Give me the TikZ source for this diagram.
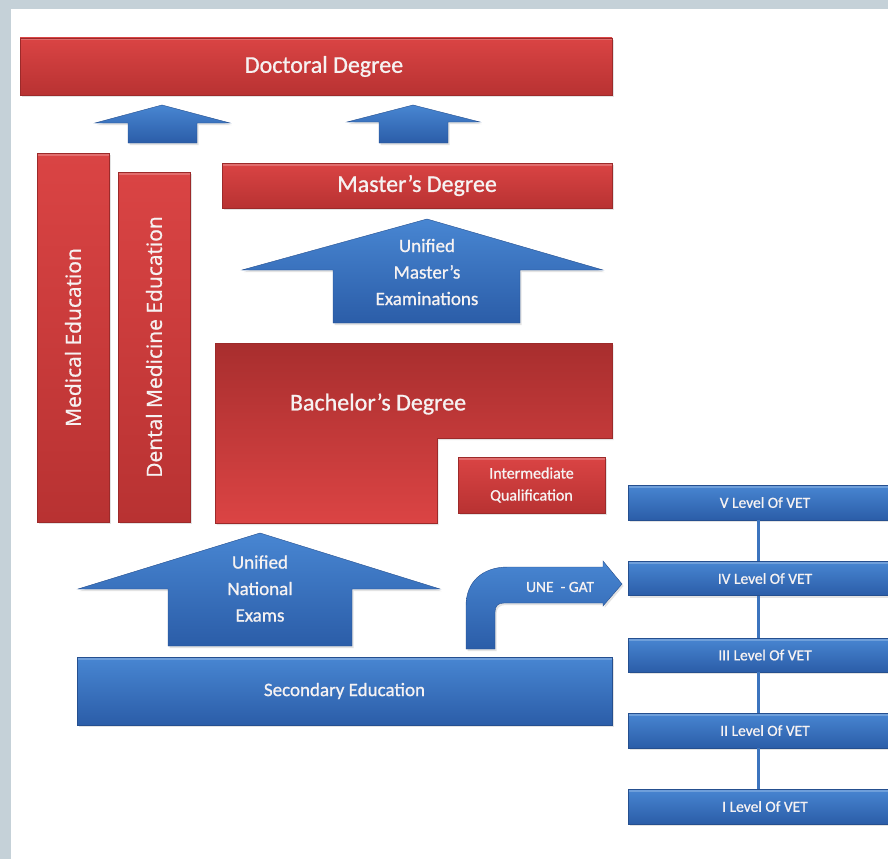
\documentclass[tikz,border=0pt]{standalone}
\usepackage{fontspec}
\setmainfont{Carlito}[BoldFont=Carlito,BoldFeatures={FakeBold=0.9}]
\newfontfamily\sidefont{Open Sans}[BoldFont=Open Sans,BoldFeatures={FakeBold=0.9}]
\usetikzlibrary{shadows}
\definecolor{frameC}{HTML}{C5D1D8}
\definecolor{redT}{HTML}{DA4444}
\definecolor{redB}{HTML}{B83232}
\definecolor{redD}{HTML}{A82E2E}
\definecolor{redL}{HTML}{DB4444}
\definecolor{blueT}{HTML}{4886D2}
\definecolor{blueB}{HTML}{2B5DA8}
\definecolor{lineB}{HTML}{3C74BE}
\definecolor{txt}{HTML}{F6F2F2}
\begin{document}
\begin{tikzpicture}[x=1pt,y=-1pt,
  shade/.style={drop shadow={shadow xshift=1.5pt,shadow yshift=-2pt,opacity=0.22}},
  bevel/.style={path picture={\fill[white,opacity=0.22] (path picture bounding box.north west) rectangle ([yshift=-2.5pt]path picture bounding box.north east);}},
  redbox/.style={rectangle,inner sep=0pt,top color=redT,bottom color=redB,draw=redB!85!black,line width=0.4pt,text=txt,shade,bevel},
  bluebox/.style={rectangle,inner sep=0pt,top color=blueT,bottom color=blueB,draw=blueB!85!black,line width=0.4pt,text=txt,shade,bevel},
  bluearrow/.style={top color=blueT,bottom color=blueB,draw=blueB!85!black,line width=0.4pt,shade},
  lbl/.style={text=txt,align=center,inner sep=0pt},
  vline/.style={draw=lineB,line width=3pt}]
\useasboundingbox (0,0) rectangle (888,859);
\fill[frameC] (0,0) rectangle (888,859);
\fill[white] (11,9) rectangle (888,859);

% red boxes
\node[redbox,minimum width=592pt,minimum height=57pt,font=\bfseries\fontsize{24}{28}\selectfont] (doc) at (316,66.5) {\hspace*{16pt}Doctoral Degree};
\node[redbox,minimum width=390pt,minimum height=45pt,font=\bfseries\fontsize{24}{28}\selectfont] (mas) at (417,185.5) {Master’s Degree};
\node[redbox,minimum width=72pt,minimum height=369pt] (med) at (73,337.5) {};
\node[lbl,rotate=90,font=\sidefont\bfseries\fontsize{21}{25}\selectfont] (medt) at (med.center) {Medical Education};
\node[redbox,minimum width=72pt,minimum height=350pt] (den) at (154,347) {};
\node[lbl,rotate=90,font=\sidefont\bfseries\fontsize{21}{25}\selectfont] (dent) at (den.center) {Dental Medicine Education};

% bachelor L shape
\fill[top color=redD,bottom color=redL,draw=redB!85!black,line width=0.4pt,shade]
  (215,343) -- (612,343) -- (612,438) -- (437,438) -- (437,523) -- (215,523) -- cycle;
\node[lbl,font=\bfseries\fontsize{24}{28}\selectfont] (bach) at (378,404) {Bachelor’s Degree};
\node[redbox,minimum width=147pt,minimum height=56pt,align=center,font=\bfseries\fontsize{16}{22}\selectfont] (inter) at (531.5,485) {Intermediate\\Qualification};

% small arrows to doctoral
\path[bluearrow] (162,105) -- (230,123) -- (197,123) -- (197,143) -- (128,143) -- (128,123) -- (95,123) -- cycle;
\path[bluearrow] (413,105) -- (480,122) -- (448,122) -- (448,143) -- (379,143) -- (379,122) -- (347,122) -- cycle;

% unified master's examinations
\path[bluearrow] (427,219) -- (603,270) -- (520,270) -- (520,323) -- (333,323) -- (333,270) -- (242,270) -- cycle;
\node[lbl,font=\bfseries\fontsize{19}{26.5}\selectfont] (ume) at (427,272) {Unified\\Master’s\\Examinations};

% unified national exams
\path[bluearrow] (260,533) -- (440,589) -- (352,589) -- (352,646) -- (168,646) -- (168,589) -- (78,589) -- cycle;
\node[lbl,font=\bfseries\fontsize{19}{26.5}\selectfont] (une) at (260,588.5) {Unified\\National\\Exams};

% secondary education
\node[bluebox,minimum width=535pt,minimum height=68pt,font=\bfseries\fontsize{19}{23}\selectfont] (sec) at (344.5,691) {Secondary Education};

% bent arrow UNE-GAT
\path[bluearrow] (466,649) -- (466,606) .. controls (466,582) and (482,567) .. (508,567) -- (603,567) -- (603,561)
  -- (622,584) -- (603,606) -- (603,603) -- (504,603) .. controls (498,603) and (495,606) .. (495,612) -- (495,649) -- cycle;
\node[lbl,font=\bfseries\fontsize{15.5}{18}\selectfont] (gat) at (560,587) {UNE\ \ - GAT};

% VET levels
\node[bluebox,minimum width=260pt,minimum height=35pt,font=\bfseries\fontsize{15.5}{18}\selectfont] (v5) at (758,502.5) {\hspace*{14pt}V Level Of VET};
\node[bluebox,minimum width=260pt,minimum height=34pt,font=\bfseries\fontsize{15.5}{18}\selectfont] (v4) at (758,578.5) {\hspace*{14pt}IV Level Of VET};
\node[bluebox,minimum width=260pt,minimum height=34pt,font=\bfseries\fontsize{15.5}{18}\selectfont] (v3) at (758,655) {\hspace*{14pt}III Level Of VET};
\node[bluebox,minimum width=260pt,minimum height=35pt,font=\bfseries\fontsize{15.5}{18}\selectfont] (v2) at (758,730.5) {\hspace*{14pt}II Level Of VET};
\node[bluebox,minimum width=260pt,minimum height=35pt,font=\bfseries\fontsize{15.5}{18}\selectfont] (v1) at (758,806.5) {\hspace*{14pt}I Level Of VET};
\path[vline] (v5.south) -- (v4.north);
\path[vline] (v4.south) -- (v3.north);
\path[vline] (v3.south) -- (v2.north);
\path[vline] (v2.south) -- (v1.north);
\end{tikzpicture}
\end{document}
